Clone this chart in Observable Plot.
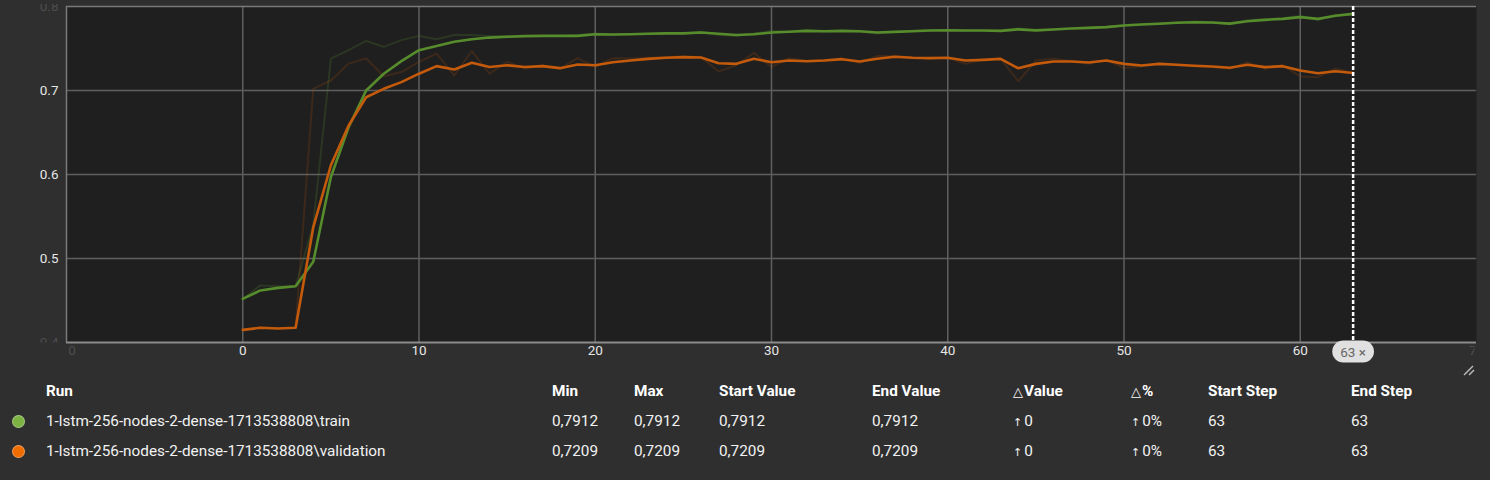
<!DOCTYPE html>
<html><head><meta charset="utf-8">
<script src="https://cdn.jsdelivr.net/npm/d3@7"></script>
<script src="https://cdn.jsdelivr.net/npm/@observablehq/plot@0.6"></script>
<style>
html,body{margin:0;padding:0;background:#2f2f2f;}
body{width:1490px;height:480px;overflow:hidden;position:relative;font-family:Roboto,"Noto Sans",sans-serif;}
#chart svg{display:block;}
table{border-collapse:collapse;table-layout:fixed;width:1490px;color:#f2f2f2;font-size:15.3px;}
td,th{padding:0;height:30px;text-align:left;white-space:nowrap;vertical-align:middle;}
th{font-weight:700;color:#fff;}
.dot{display:inline-block;width:13px;height:13px;border-radius:50%;margin-left:12px;vertical-align:middle;box-sizing:border-box;border:1px solid rgba(255,255,255,0.35);}
.arr{font-family:"DejaVu Sans",sans-serif;font-size:11px;margin-right:2px;color:#f2f2f2;}
.tri{font-family:"DejaVu Sans",sans-serif;font-size:13px;margin-right:1px;font-weight:400;}
#resize{position:absolute;left:1462px;top:364px;}
</style></head><body>
<div id="chart"></div>
<table id="tbl"></table>
<svg id="resize" width="14" height="12"><line x1="2" y1="11" x2="11" y2="2" stroke="#bbb" stroke-width="1.5"/><line x1="7" y1="11" x2="12" y2="6" stroke="#bbb" stroke-width="1.5"/></svg>
<script>
// ---- data ----
const steps = d3.range(64);
const trainSmoothed = [0.452,0.462,0.465,0.467,0.496,0.597,0.656,0.700,0.720,0.735,0.748,0.753,0.758,0.761,0.763,0.764,0.7647,0.765,0.765,0.765,0.767,0.7667,0.767,0.7675,0.768,0.768,0.769,0.7675,0.766,0.767,0.769,0.770,0.771,0.7706,0.771,0.7706,0.769,0.7698,0.7706,0.7714,0.7718,0.7714,0.7714,0.771,0.7728,0.7716,0.7726,0.7738,0.7746,0.7754,0.7774,0.7786,0.7794,0.7806,0.7813,0.781,0.7796,0.7825,0.7841,0.7853,0.7873,0.7853,0.7889,0.7912];
const trainRaw = [0.452,0.468,0.467,0.467,0.540,0.738,0.748,0.759,0.752,0.760,0.765,0.761,0.766,0.766,0.765,0.765,0.765,0.765,0.765,0.766,0.768,0.766,0.767,0.768,0.768,0.768,0.770,0.766,0.765,0.768,0.771,0.770,0.772,0.770,0.771,0.770,0.768,0.770,0.771,0.772,0.772,0.771,0.771,0.771,0.774,0.771,0.773,0.774,0.775,0.776,0.778,0.779,0.780,0.781,0.782,0.781,0.779,0.784,0.785,0.786,0.789,0.784,0.790,0.7912];
const valSmoothed = [0.415,0.4175,0.4167,0.4175,0.537,0.611,0.658,0.692,0.702,0.710,0.720,0.729,0.725,0.733,0.728,0.730,0.728,0.729,0.7266,0.731,0.730,0.7337,0.7357,0.7377,0.7389,0.7397,0.7393,0.7325,0.7317,0.7377,0.7337,0.7357,0.7349,0.7357,0.7373,0.7345,0.7377,0.7401,0.7389,0.7385,0.7389,0.7357,0.7365,0.7377,0.7265,0.7317,0.7345,0.7345,0.7333,0.7357,0.7317,0.7298,0.7317,0.7306,0.7294,0.7286,0.727,0.7306,0.7278,0.729,0.7238,0.7206,0.723,0.7209];
const valRaw = [0.415,0.418,0.417,0.4175,0.702,0.712,0.732,0.738,0.717,0.722,0.734,0.744,0.718,0.747,0.720,0.734,0.726,0.730,0.726,0.7385,0.728,0.7385,0.738,0.739,0.740,0.7405,0.740,0.7226,0.730,0.7448,0.728,0.7385,0.735,0.736,0.738,0.733,0.741,0.741,0.739,0.738,0.739,0.7317,0.737,0.738,0.711,0.7357,0.7377,0.735,0.7317,0.7365,0.7266,0.729,0.7325,0.730,0.729,0.728,0.7258,0.7337,0.7258,0.7298,0.7167,0.7159,0.7262,0.7209];
const xDomain = [-10, 70];
const yDomain = [0.4, 0.8];
const xTicks = [-10,0,10,20,30,40,50,60,70];
const yTicks = [0.4,0.5,0.6,0.7,0.8];
const selectedStep = 63;

const runNames = ["1-lstm-256-nodes-2-dense-1713538808\\train","1-lstm-256-nodes-2-dense-1713538808\\validation"];
const minValues = [0.7912, 0.7209];
const maxValues = [0.7912, 0.7209];
const startValues = [0.7912, 0.7209];
const endValues = [0.7912, 0.7209];
const deltaValues = [0, 0];
const deltaPercents = [0, 0];
const startSteps = [63, 63];
const endSteps = [63, 63];
const headers = ["", "Run", "Min", "Max", "Start Value", "End Value", "△Value", "△%", "Start Step", "End Step"];

// ---- styles ----
const GREEN_LINE = "#578c2c", ORANGE_LINE = "#c45a0b";
const GREEN_DOT = "#7cb342", ORANGE_DOT = "#ef6c00";
const BRIGHT = "#e6e6e6", DIM = "#4e4e4e";

const mk = (arr, run) => steps.map((s,i) => ({step:s, value:arr[i], run}));
const trainS = mk(trainSmoothed,"train"), trainR = mk(trainRaw,"train");
const valS = mk(valSmoothed,"validation"), valR = mk(valRaw,"validation");

const isEdgeX = d => d === xDomain[0] || d === xDomain[1];
const isEdgeY = d => d === yDomain[0] || d === yDomain[1];

const chart = Plot.plot({
  width: 1490, height: 376,
  marginTop: 6, marginBottom: 34, marginLeft: 66, marginRight: 14,
  style: {background: "transparent", fontFamily: "Roboto, sans-serif", fontSize: "13px"},
  x: {domain: xDomain, axis: null},
  y: {domain: yDomain, axis: null},
  marks: [
    Plot.frame({fill: "#1f1f1f", stroke: null}),
    Plot.gridX(xTicks.filter(d => !isEdgeX(d)), {stroke: "#5f5f5f", strokeOpacity: 1, strokeWidth: 1.5}),
    Plot.gridY(yTicks.filter(d => !isEdgeY(d)), {stroke: "#5f5f5f", strokeOpacity: 1, strokeWidth: 1.5}),
    Plot.ruleY([yDomain[1]], {stroke: "#7a7a7a", strokeWidth: 1.5}),
    Plot.ruleY([yDomain[0]], {stroke: "#8c8c8c", strokeWidth: 2}),
    Plot.ruleX([xDomain[0]], {stroke: "#7a7a7a", strokeWidth: 1.5}),
    Plot.line(trainR, {x: "step", y: "value", stroke: GREEN_LINE, strokeOpacity: 0.22, strokeWidth: 2}),
    Plot.line(valR, {x: "step", y: "value", stroke: ORANGE_LINE, strokeOpacity: 0.18, strokeWidth: 2}),
    Plot.line(trainS, {x: "step", y: "value", stroke: GREEN_LINE, strokeWidth: 2.6}),
    Plot.line(valS, {x: "step", y: "value", stroke: ORANGE_LINE, strokeWidth: 2.6}),
    Plot.ruleX([selectedStep], {stroke: "#ffffff", strokeWidth: 2.5, strokeDasharray: "4,2"}),
    Plot.text(yTicks, {y: d => d, frameAnchor: "left", dx: -8, textAnchor: "end", fontSize: 13.5, text: d => d.toFixed(1), fill: d => isEdgeY(d) ? DIM : BRIGHT}),
    Plot.text(xTicks, {x: d => d, frameAnchor: "bottom", dy: 12, fontSize: 13.5, text: d => String(d), fill: d => isEdgeX(d) ? DIM : BRIGHT}),
    Plot.text([selectedStep], {x: d => d, frameAnchor: "bottom", dy: 14, fontSize: 13.5, text: d => `${d} ×`, fill: "#666666"})
  ]
});
document.getElementById("chart").appendChild(chart);

// clip edge tick labels like the reference, and draw the step badge pill
try {
  const svg = d3.select(chart);
  const defs = svg.insert("defs", ":first-child");
  defs.append("clipPath").attr("id","xclip").append("rect").attr("x",68).attr("y",0).attr("width",1406).attr("height",376);
  defs.append("clipPath").attr("id","yclip").append("rect").attr("x",0).attr("y",3.5).attr("width",66).attr("height",338.5);
  const textGroups = Array.from(chart.querySelectorAll("g")).filter(g => g.querySelector(":scope > text") && !g.querySelector(":scope > g"));
  const groupOf = str => textGroups.find(g => Array.from(g.querySelectorAll("text")).some(t => t.textContent === str));
  const yg = groupOf("0.7"), xg = groupOf("-10"), bg = groupOf(`${selectedStep} ×`);
  if (xg) xg.setAttribute("clip-path","url(#xclip)");
  if (yg) yg.setAttribute("clip-path","url(#yclip)");
  if (bg) {
    const bt = Array.from(bg.querySelectorAll("text")).find(t => t.textContent === `${selectedStep} ×`);
    const bb = bt.getBBox();
    const r = document.createElementNS("http://www.w3.org/2000/svg","rect");
    const tf = bt.getAttribute("transform");
    if (tf) r.setAttribute("transform", tf);
    const h = 22;
    r.setAttribute("x", bb.x - 8); r.setAttribute("y", bb.y + bb.height / 2 - h / 2);
    r.setAttribute("width", bb.width + 16); r.setAttribute("height", h);
    r.setAttribute("rx", h / 2); r.setAttribute("fill", "#e0e0e0");
    bt.parentNode.insertBefore(r, bt);
  }
} catch (e) { console.log(e); }

// ---- table ----
const fmt = v => v.toFixed(4).replace(".", ",");
const colW = [46, 506, 82, 85, 153, 141, 118, 77, 143, 139];
const tbl = d3.select("#tbl");
const cg = tbl.append("colgroup");
colW.forEach(w => cg.append("col").style("width", w + "px"));
const hr = tbl.append("tr");
headers.forEach(h => {
  const th = hr.append("th");
  if (h.startsWith("△")) { th.append("span").attr("class","tri").text("△"); th.append("span").text(h.slice(1)); }
  else th.text(h);
});
const dotColors = [GREEN_DOT, ORANGE_DOT];
runNames.forEach((name, i) => {
  const tr = tbl.append("tr");
  tr.append("td").append("span").attr("class","dot").style("background", dotColors[i]);
  tr.append("td").text(name);
  tr.append("td").text(fmt(minValues[i]));
  tr.append("td").text(fmt(maxValues[i]));
  tr.append("td").text(fmt(startValues[i]));
  tr.append("td").text(fmt(endValues[i]));
  const dv = tr.append("td"); dv.append("span").attr("class","arr").text("↑"); dv.append("span").text(String(deltaValues[i]));
  const dp = tr.append("td"); dp.append("span").attr("class","arr").text("↑"); dp.append("span").text(deltaPercents[i] + "%");
  tr.append("td").text(String(startSteps[i]));
  tr.append("td").text(String(endSteps[i]));
});
</script>
</body></html>
